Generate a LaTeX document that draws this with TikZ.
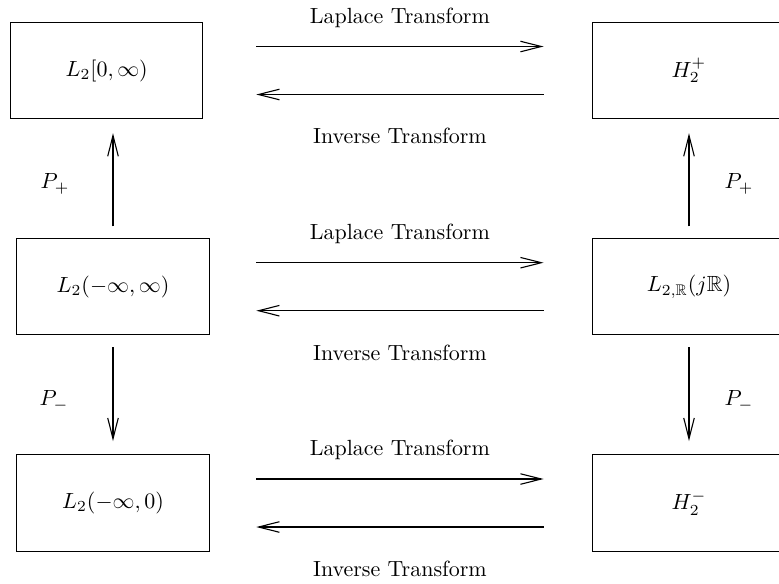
\documentclass[tikz,border=0pt]{standalone}
\usepackage{amssymb}
\usetikzlibrary{arrows.meta,calc}
\begin{document}
\begin{tikzpicture}[x=0.4554pt,y=-0.4554pt,
  box/.style={draw,line width=0.5pt,rectangle,inner sep=0pt,minimum width=87.6pt,minimum height=43.8pt},
  arr/.style={line width=0.5pt,-{Straight Barb[length=9.5pt,width=4.8pt]}},
  lab/.style={inner sep=1pt}]
\useasboundingbox (0,0) rectangle (779,583);
% boxes
\node[box] (tl) at (106.7,70.5) {$L_2[0,\infty)$};
\node[box] (ml) at (113,286.7) {$L_2(-\infty,\infty)$};
\node[box] (bl) at (113,503) {$L_2(-\infty,0)$};
\node[box] (tr) at (689,70.5) {$H_2^+$};
\node[box] (mr) at (689,286.7) {$L_{2,\mathbb{R}}(j\mathbb{R})$};
\node[box] (br) at (689,503) {$H_2^-$};
% horizontal arrows
\foreach \L/\R in {tl/tr,ml/mr,bl/br}{
  \draw[arr] ($(\R.west)+(-336,-24)$) -- node[lab,midway,yshift=13.2pt]{Laplace Transform} ($(\R.west)+(-48.7,-24)$);
  \draw[arr] ($(\R.west)+(-48.7,24)$) -- node[lab,midway,yshift=-19pt]{Inverse Transform} ($(\R.west)+(-336,24)$);
}
% vertical arrows
\draw[arr] ($(ml.north)+(0,-11.6)$) -- ($(ml.north |- tl.south)+(0,14)$);
\draw[arr] ($(ml.south)+(0,11.7)$) -- ($(bl.north)+(0,-13.3)$);
\draw[arr] ($(mr.north)+(0,-11.6)$) -- ($(mr.north |- tr.south)+(0,14)$);
\draw[arr] ($(mr.south)+(0,11.7)$) -- ($(br.north)+(0,-13.3)$);
% P labels
\node[lab] (pl1) at (55,184) {$P_+$};
\node[lab] (pl2) at (54,401) {$P_-$};
\node[lab] (pr1) at (739,184) {$P_+$};
\node[lab] (pr2) at (739,401) {$P_-$};
\end{tikzpicture}
\end{document}
